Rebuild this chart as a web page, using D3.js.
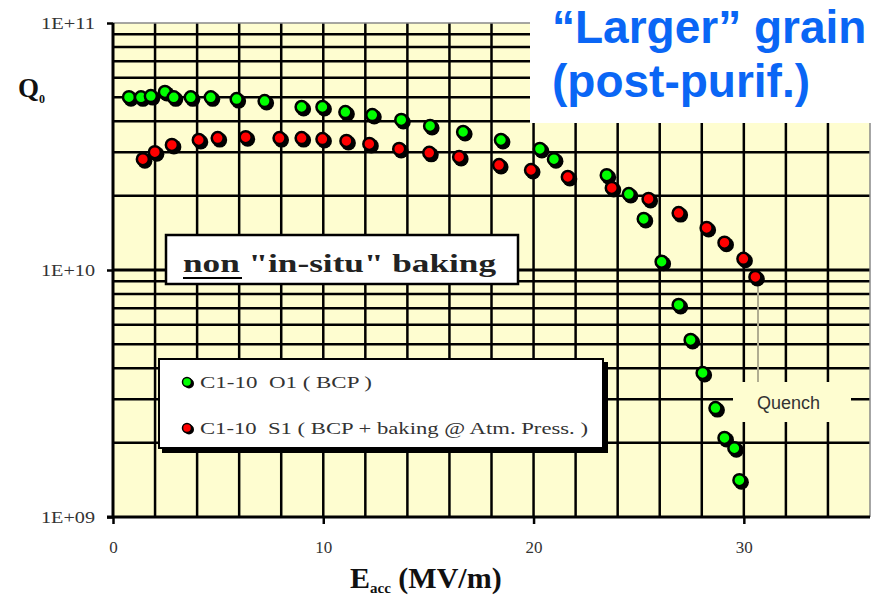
<!DOCTYPE html>
<html>
<head>
<meta charset="utf-8">
<script src="https://cdn.jsdelivr.net/npm/d3@7"></script>
<style>
  body { margin: 0; background: #fff; }
  svg { display: block; }
</style>
</head>
<body>
<div id="chart"></div>
<script>
// C1-10 O1 (BCP) - green
const o1E = [0.76, 1.33, 1.80, 2.47, 2.89, 3.70, 4.65, 5.88, 7.21, 8.97, 9.96, 11.05, 12.33, 13.71, 15.08, 16.65, 18.45, 20.30, 20.97, 23.48, 24.53, 25.24, 26.09, 26.90, 27.47, 28.04, 28.65, 29.08, 29.55, 29.79];
const o1Q = [5.01e10, 5.0e10, 5.06e10, 5.26e10, 5.0e10, 5.0e10, 5.0e10, 4.92e10, 4.83e10, 4.57e10, 4.57e10, 4.36e10, 4.24e10, 4.05e10, 3.83e10, 3.62e10, 3.36e10, 3.09e10, 2.81e10, 2.42e10, 2.03e10, 1.61e10, 1.08e10, 7.22e9, 5.21e9, 3.83e9, 2.76e9, 2.09e9, 1.90e9, 1.41e9];

// C1-10 S1 (BCP + baking @ Atm. Press.) - red
const s1E = [1.42, 1.99, 2.80, 4.08, 4.98, 6.31, 7.92, 8.97, 9.96, 11.10, 12.19, 13.61, 15.04, 16.46, 18.36, 19.88, 21.63, 23.72, 25.47, 26.90, 28.23, 29.08, 29.98, 30.55];
const s1Q = [2.81e10, 3.00e10, 3.21e10, 3.36e10, 3.42e10, 3.45e10, 3.42e10, 3.42e10, 3.39e10, 3.33e10, 3.24e10, 3.09e10, 2.98e10, 2.87e10, 2.66e10, 2.54e10, 2.38e10, 2.15e10, 1.94e10, 1.70e10, 1.48e10, 1.29e10, 1.11e10, 9.37e9];

const xTicks = [0, 10, 20, 30];
const yTicks = [1e9, 1e10, 1e11];
const yTickLabels = ["1E+09", "1E+10", "1E+11"];
const legendLabels = ["C1-10  O1 ( BCP )", "C1-10  S1 ( BCP + baking @ Atm. Press. )"];

const W = 895, H = 597;
const serif = "'Liberation Serif', 'DejaVu Serif', serif";
const sans = "'Liberation Sans', Arial, sans-serif";

const svg = d3.select("#chart").append("svg")
  .attr("width", W).attr("height", H);

// scales
const x = d3.scaleLinear().domain([0, 36]).range([113, 870]);
const y = d3.scaleLog().domain([1e9, 1e11]).range([517, 23]);

// plot background
svg.append("rect")
  .attr("x", x(0)).attr("y", y(1e11))
  .attr("width", x(36) - x(0)).attr("height", y(1e9) - y(1e11))
  .attr("fill", "#fefdd0");

// grid
const grid = svg.append("g").attr("stroke", "#000");
const xGrid = d3.range(2, 36, 2);
grid.selectAll("line.vx").data(xGrid).join("line")
  .attr("x1", d => x(d)).attr("x2", d => x(d))
  .attr("y1", y(1e11)).attr("y2", y(1e9))
  .attr("stroke-width", 2.5);

const yGrid = [];
[1e9, 1e10].forEach(dec => d3.range(2, 10).forEach(k => yGrid.push(k * dec)));
yGrid.push(1e10);
grid.selectAll("line.hy").data(yGrid).join("line")
  .attr("x1", x(0)).attr("x2", x(36))
  .attr("y1", d => y(d)).attr("y2", d => y(d))
  .attr("stroke-width", d => d === 1e10 ? 3 : 2.5);

// borders
svg.append("line").attr("x1", x(0)).attr("x2", x(36)).attr("y1", y(1e11)).attr("y2", y(1e11))
  .attr("stroke", "#888").attr("stroke-width", 1.5);
svg.append("line").attr("x1", x(36)).attr("x2", x(36)).attr("y1", y(1e11)).attr("y2", y(1e9))
  .attr("stroke", "#888").attr("stroke-width", 1.5);

// axes
const xAxis = svg.append("g").attr("transform", `translate(0,${y(1e9)})`)
  .call(d3.axisBottom(x).tickValues(xTicks).tickSize(7).tickFormat(d3.format("d")));
xAxis.select(".domain").attr("stroke-width", 3).attr("d", `M${x(0) - 6},0H${x(36)}`);
xAxis.selectAll(".tick line").attr("stroke-width", 2.5);
xAxis.selectAll(".tick text").attr("y", 24)
  .attr("font-family", serif).attr("font-size", 17).attr("fill", "#333");

const yAxis = svg.append("g").attr("transform", `translate(${x(0)},0)`)
  .call(d3.axisLeft(y).tickValues(yTicks).tickSize(6).tickFormat((d, i) => yTickLabels[i]));
yAxis.select(".domain").attr("stroke-width", 3).attr("d", `M0,${y(1e11)}V${y(1e9)}`);
yAxis.selectAll(".tick line").attr("stroke-width", 2.5);
yAxis.selectAll(".tick text").attr("x", -18)
  .attr("font-family", serif).attr("font-size", 16).attr("fill", "#333")
  .attr("textLength", 54).attr("lengthAdjust", "spacingAndGlyphs");

// axis titles
const qt = svg.append("text").attr("x", 18).attr("y", 97)
  .attr("font-family", serif).attr("font-weight", "bold").attr("font-size", 27).attr("fill", "#111");
qt.append("tspan").text("Q");
qt.append("tspan").attr("font-size", 12).attr("dy", 6).text("0");

const xt = svg.append("text").attr("x", 350).attr("y", 588)
  .attr("font-family", serif).attr("font-weight", "bold").attr("font-size", 30).attr("fill", "#111");
xt.append("tspan").text("E");
xt.append("tspan").attr("font-size", 15).attr("dy", 5).text("acc");
xt.append("tspan").attr("dy", -5).text(" (MV/m)");

// "Quench" label with cleared background and leader line
svg.append("rect").attr("x", 733).attr("y", 382).attr("width", 118).attr("height", 40)
  .attr("fill", "#fefdd0");
svg.append("line").attr("x1", 758).attr("x2", 758).attr("y1", y(9.37e9) + 6).attr("y2", 382)
  .attr("stroke", "#b0ad90").attr("stroke-width", 2);
svg.append("text").attr("x", 757).attr("y", 409).text("Quench")
  .attr("font-family", sans).attr("font-size", 18).attr("fill", "#333");

// markers
function drawSeries(E, Q, color) {
  const pts = E.map((e, i) => ({ e, q: Q[i] }));
  const g = svg.append("g");
  g.selectAll("circle.sh").data(pts).join("circle")
    .attr("cx", d => x(d.e) + 2).attr("cy", d => y(d.q) + 2).attr("r", 7.5).attr("fill", "#000");
  g.selectAll("circle.pt").data(pts).join("circle")
    .attr("cx", d => x(d.e)).attr("cy", d => y(d.q)).attr("r", 6)
    .attr("fill", color).attr("stroke", "#000").attr("stroke-width", 2.5);
}
drawSeries(o1E, o1Q, "#00ff00");
drawSeries(s1E, s1Q, "#ff0000");

// "non in-situ baking" box
svg.append("rect").attr("x", 166).attr("y", 235).attr("width", 352).attr("height", 49)
  .attr("fill", "#fff").attr("stroke", "#000").attr("stroke-width", 2.5);
svg.append("text").attr("x", 183).attr("y", 272)
  .attr("font-family", serif).attr("font-weight", "bold").attr("font-size", 25).attr("fill", "#222")
  .attr("textLength", 313).attr("lengthAdjust", "spacingAndGlyphs")
  .text("non \"in-situ\" baking");
svg.append("line").attr("x1", 183).attr("x2", 242).attr("y1", 278).attr("y2", 278)
  .attr("stroke", "#000").attr("stroke-width", 2);

// legend
const lg = svg.append("g");
lg.append("rect").attr("x", 162).attr("y", 362).attr("width", 446).attr("height", 91).attr("fill", "#000");
lg.append("rect").attr("x", 159).attr("y", 359).attr("width", 444).attr("height", 89)
  .attr("fill", "#fff").attr("stroke", "#000").attr("stroke-width", 2);
const legendColors = ["#00ff00", "#ff0000"];
const legendWidths = [172, 388];
const lgY = d3.scalePoint().domain(legendLabels).range([382, 428]);
legendLabels.forEach((lab, i) => {
  lg.append("circle").attr("cx", 189).attr("cy", lgY(lab) + 1.5).attr("r", 5).attr("fill", "#000");
  lg.append("circle").attr("cx", 187).attr("cy", lgY(lab)).attr("r", 4.5)
    .attr("fill", legendColors[i]).attr("stroke", "#000").attr("stroke-width", 1.5);
  lg.append("text").attr("x", 200).attr("y", lgY(lab) + 6).text(lab)
    .attr("font-family", serif).attr("font-size", 17).attr("fill", "#333")
    .attr("textLength", legendWidths[i]).attr("lengthAdjust", "spacingAndGlyphs")
    .style("white-space", "pre");
});

// title box
svg.append("rect").attr("x", 530).attr("y", 0).attr("width", W - 530).attr("height", 123).attr("fill", "#fff");
const tt = svg.append("text").attr("font-family", sans).attr("font-weight", "bold")
  .attr("font-size", 46).attr("fill", "#0a66f5");
tt.append("tspan").attr("x", 552).attr("y", 43).text("\u201cLarger\u201d grain");
tt.append("tspan").attr("x", 552).attr("y", 97).text("(post-purif.)");
</script>
</body>
</html>
